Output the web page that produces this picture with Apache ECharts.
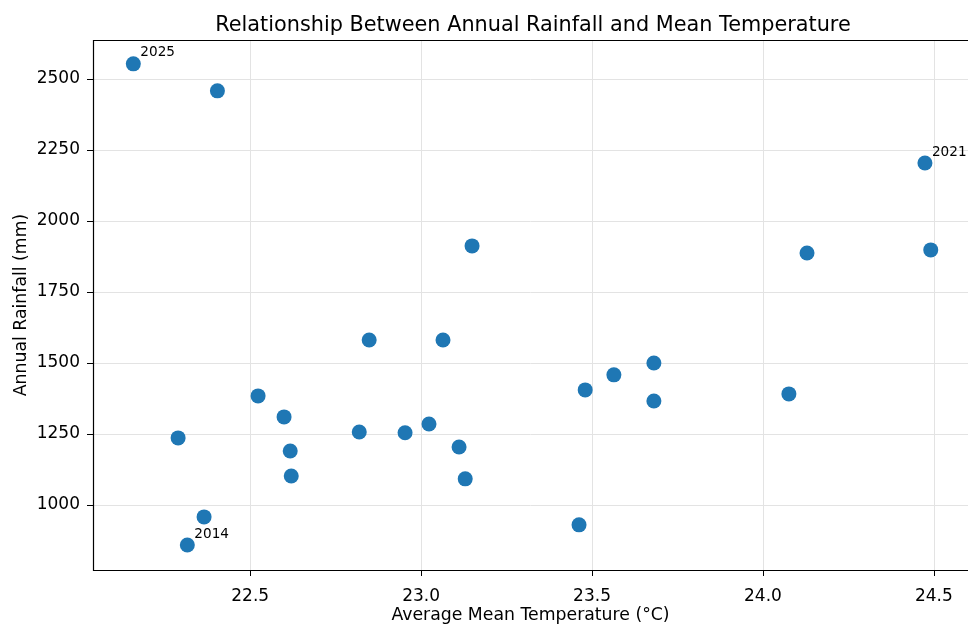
<!DOCTYPE html>
<html>
<head>
<meta charset="utf-8">
<script src="https://cdn.jsdelivr.net/npm/echarts@6/dist/echarts.min.js"></script>
<style>
  html, body { margin: 0; padding: 0; background: #fff; }
  #chart { width: 968px; height: 624px; }
</style>
</head>
<body>
<div id="chart"></div>
<script>
  // values
  const temps = [22.158, 22.404, 24.474, 24.491, 24.129, 23.149, 22.848, 23.064, 23.681, 23.564,
    23.480, 23.681, 24.076, 22.523, 22.599, 22.289, 22.617, 22.819, 22.953, 23.023,
    23.111, 22.620, 23.129, 22.365, 22.316, 23.462]
  const rainfall = [2553, 2458, 2204, 1898, 1887, 1912, 1581, 1581, 1500, 1458,
    1405, 1366, 1391, 1384, 1310, 1236, 1190, 1257, 1254, 1285,
    1204, 1102, 1092, 958, 859, 930]
  const yearLabels = ['2025', '', '2021', '', '', '', '', '', '', '',
    '', '', '', '', '', '', '', '', '', '',
    '', '', '', '', '2014', '']
  const xTicks = [22.5, 23.0, 23.5, 24.0, 24.5]
  const yTicks = [1000, 1250, 1500, 1750, 2000, 2250, 2500]

  const font = 'DejaVu Sans'
  const points = temps.map((t, i) => ({
    value: [t, rainfall[i]],
    label: { show: yearLabels[i] !== '', formatter: yearLabels[i] }
  }))

  const chart = echarts.init(document.getElementById('chart'))
  chart.setOption({
    animation: false,
    textStyle: { fontFamily: font },
    title: {
      text: 'Relationship Between Annual Rainfall and Mean Temperature',
      left: 528, top: 10, textAlign: 'center',
      textStyle: { fontFamily: font, fontSize: 20.8, fontWeight: 'normal', color: '#000' }
    },
    grid: { left: 93, right: 0, top: 40, bottom: 54, outerBoundsMode: 'none', containLabel: false },
    xAxis: {
      type: 'value', min: 22.04, max: 24.6,
      name: 'Average Mean Temperature (°C)', nameLocation: 'middle', nameGap: 37,
      nameMoveOverlap: false,
      nameTextStyle: { fontFamily: font, fontSize: 17.3, color: '#000' },
      axisLine: { show: false },
      axisTick: { show: true, length: 6, customValues: xTicks, lineStyle: { color: '#000' } },
      axisLabel: { customValues: xTicks, formatter: v => v.toFixed(1), fontSize: 17, color: '#000', margin: 18 },
      splitLine: { show: true, lineStyle: { color: '#e3e3e3', width: 1 } }
    },
    yAxis: {
      type: 'value', min: 771, max: 2637,
      name: 'Annual Rainfall (mm)', nameLocation: 'middle', nameGap: 63,
      nameMoveOverlap: false,
      nameTextStyle: { fontFamily: font, fontSize: 17.3, color: '#000' },
      axisLine: { show: false },
      axisTick: { show: true, length: 6, customValues: yTicks, lineStyle: { color: '#000' } },
      axisLabel: { customValues: yTicks, formatter: v => String(v), fontSize: 17, color: '#000', margin: 13 },
      splitLine: { show: true, lineStyle: { color: '#e3e3e3', width: 1 } }
    },
    series: [{
      type: 'scatter',
      symbolSize: 15,
      itemStyle: { color: '#1f77b4', opacity: 1 },
      label: {
        position: [14.5, -10.5], fontSize: 13.6, color: '#000', fontFamily: font
      },
      data: points
    }],
    graphic: [{
      type: 'rect', silent: true, z: 100,
      shape: { x: 93.5, y: 40.5, width: 880, height: 530 },
      style: { fill: 'none', stroke: '#000', lineWidth: 1.2 }
    }]
  })
</script>
</body>
</html>
